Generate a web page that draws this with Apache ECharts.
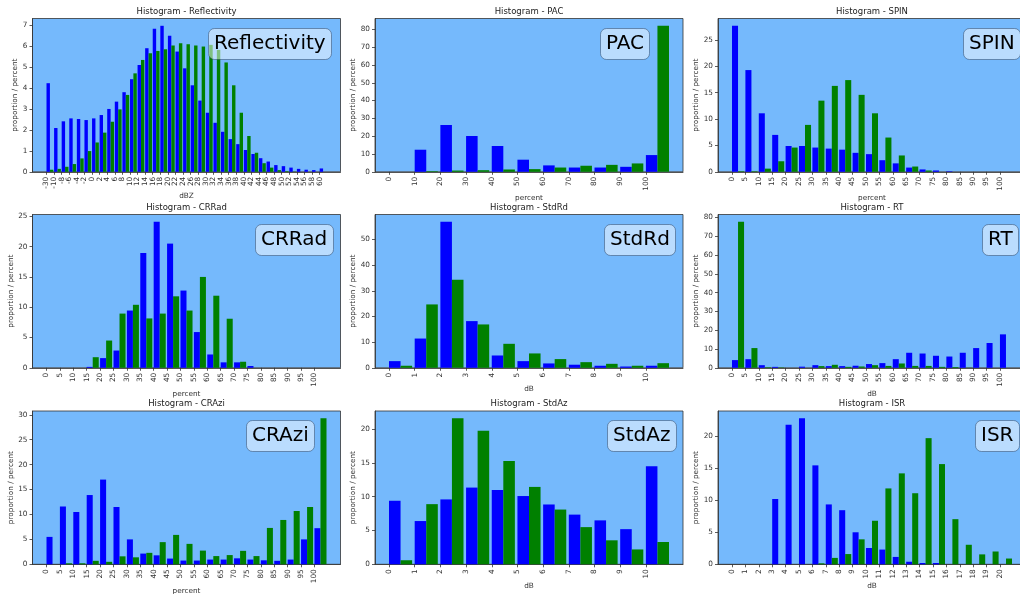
<!DOCTYPE html>
<html>
<head>
<meta charset="utf-8">
<title>Histograms</title>
<script src="https://cdn.jsdelivr.net/npm/echarts@6/dist/echarts.min.js"></script>
<style>
  html, body { margin: 0; padding: 0; background: #fff; }
  #chart { width: 1020px; height: 594px; }
</style>
</head>
<body>
<div id="chart"></div>
<script>
// tick labels of the bins
const reflLabels = ['-30', '-10', '-8', '-6', '-4', '-2', '0', '2', '4', '6', '8', '10', '12', '14', '16', '18',
  '20', '22', '24', '26', '28', '30', '32', '34', '36', '38', '40', '42', '44', '46', '48', '50', '52', '54', '56', '58', '60'];
const pct10Labels = ['0', '10', '20', '30', '40', '50', '60', '70', '80', '90', '100'];
const pct5Labels = ['0', '5', '10', '15', '20', '25', '30', '35', '40', '45', '50', '55', '60', '65', '70', '75', '80', '85', '90', '95', '100'];
const db10Labels = ['0', '1', '2', '3', '4', '5', '6', '7', '8', '9', '10'];
const db20Labels = ['0', '1', '2', '3', '4', '5', '6', '7', '8', '9', '10', '11', '12', '13', '14', '15', '16', '17', '18', '19', '20'];

// proportions (percent), blue = first set, green = second set
const reflBlue = [4.23, 2.09, 2.41, 2.55, 2.52, 2.47, 2.55, 2.71, 3.0, 3.35, 3.8, 4.42, 5.1, 5.9, 6.83, 6.97, 6.5, 5.74,
  4.94, 4.13, 3.4, 2.82, 2.34, 1.91, 1.56, 1.32, 1.04, 0.85, 0.65, 0.49, 0.32, 0.27, 0.2, 0.14, 0.1, 0.08, 0.16];
const reflGreen = [0.1, 0.14, 0.24, 0.37, 0.64, 0.99, 1.4, 1.87, 2.39, 2.98, 3.67, 4.7, 5.34, 5.66, 5.77, 5.85, 6.03, 6.14,
  6.09, 6.03, 5.98, 6.06, 5.82, 5.22, 4.13, 2.82, 1.71, 0.91, 0.41, 0.2, 0.08, 0.03, 0.01, 0, 0, 0, 0];

const pacBlue = [0, 12.4, 26.3, 20.1, 14.5, 6.8, 3.6, 2.4, 2.4, 2.8, 9.4];
const pacGreen = [0, 0.35, 0.7, 0.9, 1.3, 1.5, 2.4, 3.4, 3.9, 4.7, 82];

const spinBlue = [27.7, 19.3, 11.1, 7.0, 4.9, 4.9, 4.6, 4.4, 4.2, 3.6, 3.35, 2.2, 1.6, 0.8, 0.45, 0.25, 0.1, 0, 0, 0, 0];
const spinGreen = [0.1, 0.1, 0.6, 2.0, 4.6, 8.9, 13.5, 16.3, 17.4, 14.6, 11.1, 6.5, 3.1, 1.0, 0.25, 0, 0, 0, 0, 0, 0];

const crradBlue = [0, 0, 0, 0.15, 1.6, 2.85, 9.45, 18.95, 24.1, 20.5, 12.75, 5.9, 2.2, 0.9, 0.9, 0.3, 0, 0, 0, 0, 0];
const crradGreen = [0, 0, 0, 1.75, 4.5, 8.95, 10.4, 8.15, 8.95, 11.8, 9.45, 15.0, 11.9, 8.1, 1.0, 0, 0, 0, 0, 0, 0];

const stdrdBlue = [2.6, 11.4, 56.9, 18.2, 4.8, 2.6, 1.7, 1.2, 0.8, 0.5, 0.8];
const stdrdGreen = [0.8, 24.7, 34.3, 16.9, 9.35, 5.6, 3.4, 2.2, 1.55, 0.8, 1.8];

const rtBlue = [4.1, 4.6, 1.4, 0.5, 0, 0.6, 1.4, 0.9, 0.9, 1.1, 2.0, 2.5, 4.6, 8.0, 7.6, 6.4, 6.0, 8.0, 10.5, 13.2, 17.8];
const rtGreen = [77.7, 10.5, 0.3, 0.2, 0, 0, 0.9, 1.6, 0.5, 0.7, 1.4, 1.0, 2.3, 1.0, 1.0, 0.5, 0.4, 0.1, 0, 0, 0];

const craziBlue = [5.5, 11.6, 10.5, 13.9, 17.0, 11.5, 5.0, 2.15, 1.8, 1.15, 0.75, 0.75, 0.95, 0.95, 1.2, 0.95, 0.8, 0.7, 0.95, 5.0, 7.25];
const craziGreen = [0, 0.2, 0.2, 0.7, 0.5, 1.6, 1.4, 2.3, 4.45, 5.9, 4.1, 2.75, 1.65, 1.85, 2.7, 1.65, 7.3, 8.9, 10.7, 11.5, 29.3];

const stdazBlue = [9.4, 6.4, 9.6, 11.35, 11.0, 10.1, 8.85, 7.35, 6.5, 5.2, 14.5];
const stdazGreen = [0.6, 8.9, 21.6, 19.75, 15.3, 11.45, 8.1, 5.5, 3.55, 2.2, 3.3];

const isrBlue = [0, 0, 0, 10.2, 21.8, 22.8, 15.45, 9.35, 8.45, 5.0, 2.55, 2.3, 1.15, 0.4, 0.2, 0.2, 0, 0, 0, 0, 0];
const isrGreen = [0, 0, 0, 0, 0, 0, 0.15, 1.0, 1.6, 3.9, 6.8, 11.85, 14.2, 11.1, 19.7, 15.65, 7.05, 3.05, 1.55, 2.0, 0.9];

const panels = [
  { key: 'Reflectivity', labels: reflLabels, blue: reflBlue, green: reflGreen, xName: 'dBZ', yStep: 1 },
  { key: 'PAC', labels: pct10Labels, blue: pacBlue, green: pacGreen, xName: 'percent', yStep: 10 },
  { key: 'SPIN', labels: pct5Labels, blue: spinBlue, green: spinGreen, xName: 'percent', yStep: 5 },
  { key: 'CRRad', labels: pct5Labels, blue: crradBlue, green: crradGreen, xName: 'percent', yStep: 5 },
  { key: 'StdRd', labels: db10Labels, blue: stdrdBlue, green: stdrdGreen, xName: 'dB', yStep: 10 },
  { key: 'RT', labels: pct5Labels, blue: rtBlue, green: rtGreen, xName: 'dB', yStep: 10 },
  { key: 'CRAzi', labels: pct5Labels, blue: craziBlue, green: craziGreen, xName: 'percent', yStep: 5 },
  { key: 'StdAz', labels: db10Labels, blue: stdazBlue, green: stdazGreen, xName: 'dB', yStep: 5 },
  { key: 'ISR', labels: db20Labels, blue: isrBlue, green: isrGreen, xName: 'dB', yStep: 5 }
];

// layout (pixels)
const colLeft = [32.5, 375, 718];
const rowTop = [18.5, 214.5, 411];
const headTop = [7, 203, 399];
const plotW = 308, plotH = 153.3;
const boxPos = [[208, 28], [600, 28], [963, 28], [255, 224], [604, 224], [982, 224], [246, 420], [607, 420], [975, 420]];
const xNameGap = [15.5, 17.5, 17.5, 17.5, 13.5, 17.5, 17.5, 12.5, 12.5];
const yNameGap = [12.5, 15.5, 15.5, 15.5, 15.5, 15.5, 15.5, 15.5, 15.5];

const BG = '#75b9fc';
const FONT = 'DejaVu Sans';
const lineStyle = { color: '#333', width: 0.8 };
const smallText = { fontSize: 7.3, color: '#333', fontFamily: FONT };

const grid = [], xAxis = [], yAxis = [], series = [], title = [];

panels.forEach(function (p, i) {
  const left = colLeft[i % 3];
  const top = rowTop[Math.floor(i / 3)];
  grid.push({
    left: left, top: top, width: plotW, height: plotH,
    show: true, backgroundColor: BG, borderColor: '#333', borderWidth: 0.8,
    containLabel: false, outerBoundsMode: 'none'
  });

  // matplotlib style 5% margins around the bars
  const n = p.labels.length;
  const pad = 0.05 * (n - 0.1);
  const idx = p.labels.map(function (_, k) { return k; });
  xAxis.push({
    type: 'value', gridIndex: i, min: -pad, max: n - 0.1 + pad,
    name: p.xName, nameLocation: 'middle', nameGap: xNameGap[i], nameTextStyle: smallText,
    axisLine: { show: true, onZero: false, lineStyle: lineStyle },
    axisTick: { show: true, length: 3, customValues: idx, lineStyle: lineStyle },
    axisLabel: {
      rotate: 90, margin: 5, fontSize: 7.3, color: '#333', fontFamily: FONT, customValues: idx,
      formatter: function (v) { return p.labels[Math.round(v)]; }
    },
    splitLine: { show: false }
  });

  const yMax = Math.max.apply(null, p.blue.concat(p.green)) * 1.05;
  const yTicks = [];
  for (let v = 0; v <= yMax; v += p.yStep) yTicks.push(v);
  yAxis.push({
    type: 'value', gridIndex: i, min: 0, max: yMax,
    name: 'proportion / percent', nameLocation: 'middle', nameGap: yNameGap[i], nameTextStyle: smallText,
    axisLine: { show: true, onZero: false, lineStyle: lineStyle },
    axisTick: { show: true, length: 3, customValues: yTicks, lineStyle: lineStyle },
    axisLabel: { margin: 5, fontSize: 7.3, color: '#333', fontFamily: FONT, customValues: yTicks },
    splitLine: { show: false }
  });

  // blue bar starts at the tick, green follows it
  const bar = function (vals, color) {
    return {
      type: 'bar', xAxisIndex: i, yAxisIndex: i, barWidth: '45%', barGap: '0%',
      itemStyle: { color: color },
      data: vals.map(function (v, k) { return [k + 0.45, v]; })
    };
  };
  series.push(bar(p.blue, '#0000ff'), bar(p.green, '#008000'));

  title.push({
    text: 'Histogram - ' + p.key, left: left + plotW / 2, top: headTop[Math.floor(i / 3)],
    textAlign: 'center', padding: 0,
    textStyle: { fontSize: 8.5, fontWeight: 'normal', color: '#222', fontFamily: FONT }
  });
  title.push({
    text: p.key, left: boxPos[i][0], top: boxPos[i][1], padding: [6, 6],
    backgroundColor: 'rgba(255,255,255,0.5)', borderColor: 'rgba(30,50,80,0.45)', borderWidth: 1, borderRadius: 6,
    textStyle: { fontSize: 20, fontWeight: 'normal', color: '#000', fontFamily: FONT }
  });
});

const chart = echarts.init(document.getElementById('chart'));
chart.setOption({
  animation: false,
  backgroundColor: '#fff',
  textStyle: { fontFamily: FONT },
  title: title,
  grid: grid,
  xAxis: xAxis,
  yAxis: yAxis,
  series: series
});
</script>
</body>
</html>
